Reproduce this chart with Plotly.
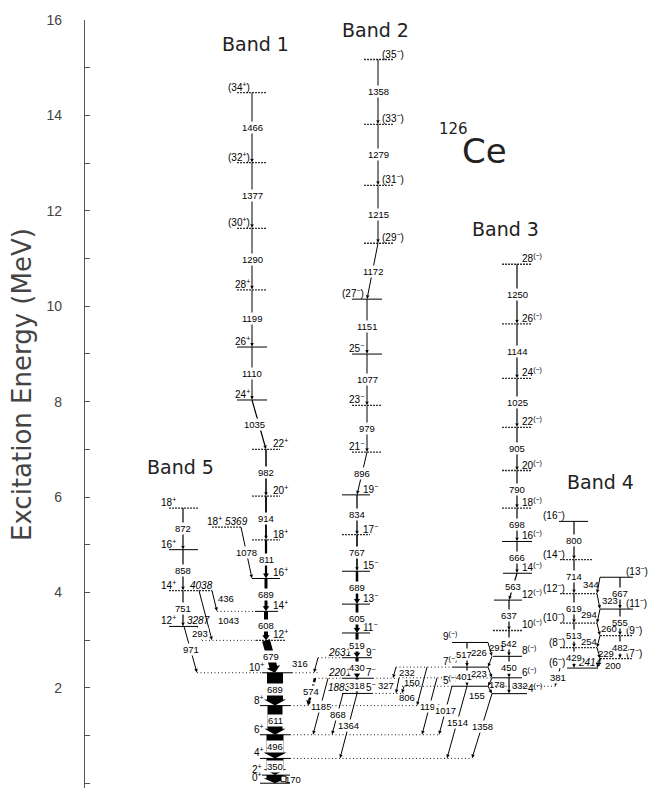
import math
import plotly.graph_objects as go

# ======================= DATA (level energies and gamma energies, keV) =======================
B1_SPIN = ["0+", "2+", "4+", "6+", "8+", "10+", "12+", "14+", "16+", "18+", "20+", "22+",
           "24+", "26+", "28+", "(30+)", "(32+)", "(34+)"]
B1_E = [0, 170, 520, 1016, 1627, 2316, 2995, 3603, 4292, 5103, 6017, 6999,
        8034, 9144, 10343, 11633, 13010, 14476]
B1_GAM = ["170", "350", "496", "611", "689", "679", "608", "689", "811", "914", "982",
          "1035", "1110", "1199", "1290", "1377", "1466"]

B2_SPIN = ["5-", "7-", "9-", "11-", "13-", "15-", "17-", "19-", "21-", "23-", "25-",
           "(27-)", "(29-)", "(31-)", "(33-)", "(35-)"]
B2_E = [1883, 2201, 2631, 3150, 3755, 4444, 5211, 6045, 6941, 7920, 8997,
        10148, 11320, 12535, 13814, 15172]
B2_GAM = ["318", "430", "519", "605", "689", "767", "834", "896", "979", "1077",
          "1151", "1172", "1215", "1279", "1358"]
B2_ELAB = ["1883", "2201", "2631"]

B3E_SPIN = ["4(-)", "6(-)", "8(-)", "10(-)", "12(-)", "14(-)", "16(-)", "18(-)", "20(-)",
            "22(-)", "24(-)", "26(-)", "28(-)"]
B3E_E = [1878, 2210, 2660, 3202, 3839, 4402, 5068, 5766, 6556, 7461, 8486, 9630, 10880]
B3E_GAM = ["332", "450", "542", "637", "563", "666", "698", "790", "905", "1025", "1144", "1250"]
B3O_SPIN = ["5(-)", "7(-)", "9(-)"]
B3O_E = [2033, 2434, 2951]
B3O_GAM = ["401", "517"]
B3X_FROM = [2951, 2660, 2434, 2210, 2033]
B3X_TO = [2660, 2434, 2210, 2033, 1878]
B3X_GAM = ["291", "226", "223", "178", "155"]

B4E_SPIN = ["(6-)", "(8-)", "(10-)", "(12-)", "(14-)", "(16-)"]
B4E_E = [2414, 2843, 3356, 3975, 4689, 5489]
B4E_GAM = ["429", "513", "619", "714", "800"]
B4O_SPIN = ["(7-)", "(9-)", "(11-)", "(13-)"]
B4O_E = [2614, 3096, 3651, 4318]
B4O_GAM = ["482", "555", "667"]
B4X_FROM = [4318, 3975, 3651, 3356, 3096, 2843, 2614]
B4X_TO = [3975, 3651, 3356, 3096, 2843, 2614, 2414]
B4X_GAM = ["344", "323", "294", "260", "254", "229", "200"]
B4_ELAB = "2414"

B5_SPIN = ["12+", "14+", "16+", "18+"]
B5_E = [3287, 4038, 4896, 5768]
B5_GAM = ["751", "858", "872"]
B5_ELAB = ["3287", "4038"]
ISO_SPIN = "18+"
ISO_E = 5369

LINK_FROM = [5369, 4038, 4038, 3287, 3287, 2631, 2201, 2201, 1883, 1883,
             2434, 2210, 2033, 2434, 2210, 2033, 2033, 1878, 2414]
LINK_TO = [4292, 3603, 2995, 2995, 2316, 2316, 1627, 1016, 1016, 520,
           2201, 1883, 1883, 1627, 1016, 1016, 520, 520, 2033]
LINK_GAM = ["1078", "436", "1043", "293", "971", "316", "574", "1185", "868", "1364",
            "232", "327", "150", "806", "1194", "1017", "1514", "1358", "381"]

Y_TICKS = [0, 2, 4, 6, 8, 10, 12, 14, 16]
Y_TICK_TEXT = ["0", "2", "4", "6", "8", "10", "12", "14", "16"]
Y_TITLE = "Excitation Energy (MeV)"
BAND_TITLES = ["Band 1", "Band 2", "Band 3", "Band 4", "Band 5"]
NUCLEUS_A, NUCLEUS_SYM = "126", "Ce"

# ======================= LAYOUT (positions / styles) =======================
W, H = 655, 789
M_L, M_R, M_T, M_B = 85, 0, 20, 1
Y_MIN, Y_MAX = -0.1, 16.0
S = (H - M_T - M_B) / (Y_MAX - Y_MIN)      # px per MeV
FONT = "Liberation Sans"
TFONT = "DejaVu Sans"
FS_G = 9.5    # gamma label size
FS_S = 10     # spin label size

B1_XC = [275] * 6 + [266] * 6 + [252] * 6
B1_X0 = [260, 262, 260, 260, 260, 262, 256, 255, 252, 252, 252, 252, 237, 237, 237, 237, 237, 237]
B1_X1 = [290, 290, 290, 290, 290, 292, 285, 278, 280, 280, 280, 280, 267, 267, 267, 267, 267, 267]
B1_SIDE = ["L"] * 6 + ["R"] * 6 + ["L"] * 6
B1_LX = [263, 263, 265, 265, 265, 265] + [272] * 6 + [251] * 6
B1_STY = ["s", "s", "s", "s", "s", "s", "g", "s", "s", "g", "g", "g", "s", "s", "g", "g", "g", "g"]
B1_W = [17, 17, 17, 15, 16, 8, 4, 3, 2.2, 1.8, 1.5, 1.2, 1, 1, 1, 1, 1]
B1_GDX = [18, 0, 0, 0, 0, 0, 0, 0, 0, 0, 0, -5, 0, 0, 0, 0, 0]

B2_XC = [357] * 8 + [367] * 4 + [378] * 4
B2_X0 = [342] * 8 + [352] * 4 + [364] * 4
B2_X1 = [372, 373, 372, 370, 370, 370, 370, 370] + [382] * 4 + [393] * 4
B2_SIDE = ["R"] * 8 + ["L"] * 4 + ["R"] * 4
B2_LX = [365, 365, 365] + [362] * 5 + [365] * 4 + [381] * 4
B2_STY = ["s", "s", "s", "s", "s", "s", "g", "s", "g", "g", "s", "s", "g", "g", "g", "g"]
B2_W = [3, 3.2, 3, 2.8, 2.5, 1.6, 1.3, 1, 1, 1, 1, 1, 1, 1, 1]
B2_ELX = 352

B3E_XC = [509] * 5 + [517] * 8
B3E_X0 = [492, 492, 493, 493, 494, 503] + [502] * 7
B3E_X1 = [527, 522, 522, 522, 522] + [532] * 8
B3E_LX = [527] + [521] * 12
B3E_STY = ["s", "s", "s", "g", "s", "s", "s", "g", "g", "g", "g", "g", "g"]
B3E_GDX = [11] + [0] * 11
B3O_XC, B3O_X0, B3O_X1, B3O_LX = 467, 452, 488, 458
B3O_STY = ["s", "s", "s"]
B3X_X1 = [488, 492, 488, 492, 488]
B3X_X2 = [492, 488, 492, 488, 492]
B3X_LD = [(7, -2), (-11, -9), (-11, 1), (7, 2), (-13, 6)]

B4E_XC = 574
B4E_X0 = [567, 560, 560, 560, 560, 559]
B4E_X1 = [598, 597, 597, 597, 592, 588]
B4E_LX = 566
B4E_STY = ["s", "g", "g", "g", "g", "s"]
B4O_XC, B4O_X0, B4O_X1, B4O_LX = 620, 600, 633, 625
B4O_STY = ["g", "g", "s", "s"]
B4X_X1 = [600, 597, 600, 597, 600, 597, 600]
B4X_X2 = [597, 600, 597, 600, 597, 600, 597]
B4X_LD = [(-8, -1), (11, -1), (-10, -2), (10, -1), (-10, 0), (7, 0), (14, 2)]

B5_XC = 183
B5_X0 = [169, 169, 169, 169]
B5_X1 = [198, 212, 198, 198]
B5_LX = 177
B5_STY = ["s", "g", "s", "g"]
B5_ELX = [186, 189]
ISO_X0, ISO_X1, ISO_LX = 212, 242, 206

LINK_X1 = [241, 212, 199, 197, 184, 318, 315, 328, 343, 357, 396, 399, 404, 427, 437, 452, 467, 492, 560]
LINK_X2 = [252, 217, 212, 202, 197, 314, 308, 313, 332, 340, 393, 396, 402, 417, 422, 439, 447, 472, 555]
LINK_W = [1] * 6 + [2.5] + [1] * 12
LINK_DASH = [False] * 6 + [True] + [False] * 12
# label offsets (dx, dy in screen px, bg)
LINK_LD = [(0, 0, True), (11, -2, False), (23, 5, False), (0, 0, True), (0, 0, True),
           (-16, -2, False), (-1, 0, True), (0, 0, True), (0, 0, True), (0, 0, True),
           (12, 0, False), (-12, 0, False), (9, -7, False), (-15, 11, False),
           (0, 0, True), (0, 0, True), (0, 0, True), (0, 0, True), (0, 0, True)]

# dotted extensions of levels (keV, x0, x1)
EXT = [(2316, 197, 262), (2316, 292, 318), (2995, 202, 256), (3603, 217, 255),
       (1627, 290, 417), (1016, 290, 440), (520, 290, 472), (2631, 318, 342),
       (2201, 315, 342), (2201, 373, 396), (1883, 372, 404), (2434, 396, 452),
       (2210, 399, 492), (2033, 402, 452), (2033, 488, 556)]

TITLE_POS = [(255, 44), (375, 30), (505, 229), (600, 482), (180, 467)]
YTITLE_POS = (22, 385)

shapes = []
annots = []


def ymev(kev):
    return kev / 1000.0


def scr_y(py):
    return Y_MAX - (py - M_T) / S


def spin_html(s):
    s = s.replace("(-)", "<sup>(\u2212)</sup>")
    s = s.replace("+", "<sup>+</sup>")
    s = s.replace("-", "<sup>\u2212</sup>")
    return s


def level(x0, x1, kev, sty):
    if sty == "s":
        ln = dict(color="black", width=1)
    elif sty == "g":
        ln = dict(color="#333", width=1.3, dash="2px,1px")
    else:
        ln = dict(color="#222", width=1, dash="1px,2.5px")
    shapes.append(dict(type="line", xref="x", yref="y", x0=x0, x1=x1,
                       y0=ymev(kev), y1=ymev(kev), line=ln, layer="above"))


def add_poly(pts):
    d = "M " + " L ".join(f"{x:.2f},{y / S:.5f}" for x, y in pts) + " Z"
    shapes.append(dict(type="path", xref="x", yref="y", path=d, fillcolor="black",
                       line=dict(width=0), layer="above"))


def arrow(x1, e1, x2, e2, w, dashed=False):
    y1, y2 = e1 / 1000 * S, e2 / 1000 * S
    dx, dy = x2 - x1, y2 - y1
    L = math.hypot(dx, dy)
    ux, uy = dx / L, dy / L
    nx, ny = -uy, ux
    if w >= 6:
        hl, hw = 6, w / 2 + 3
    elif w >= 2:
        hl, hw = 5, w / 2 + 1.8
    else:
        hl, hw = 4, 1.7
    hl = min(hl, L * 0.6)
    bx, by = x2 - ux * hl, y2 - uy * hl
    h = w / 2
    if w <= 1.3:
        shapes.append(dict(type="line", xref="x", yref="y", x0=x1, y0=y1 / S, x1=bx, y1=by / S,
                           line=dict(color="black", width=w), layer="above"))
        add_poly([(bx + nx * hw, by + ny * hw), (x2, y2), (bx - nx * hw, by - ny * hw)])
    elif not dashed:
        add_poly([(x1 + nx * h, y1 + ny * h), (bx + nx * h, by + ny * h), (bx + nx * hw, by + ny * hw),
                  (x2, y2), (bx - nx * hw, by - ny * hw), (bx - nx * h, by - ny * h),
                  (x1 - nx * h, y1 - ny * h)])
    else:
        seg, gap = 4.0, 2.5
        t, body = 0.0, L - hl
        while t < body:
            t2 = min(t + seg, body)
            ax, ay = x1 + ux * t, y1 + uy * t
            cx, cy = x1 + ux * t2, y1 + uy * t2
            add_poly([(ax + nx * h, ay + ny * h), (cx + nx * h, cy + ny * h),
                      (cx - nx * h, cy - ny * h), (ax - nx * h, ay - ny * h)])
            t = t2 + gap
        add_poly([(bx + nx * hw, by + ny * hw), (x2, y2), (bx - nx * hw, by - ny * hw)])


def text(x, y, s, size=FS_G, xanchor="center", yanchor="middle", bg=False, yshift=0, italic=False,
         family=FONT, color="black"):
    if italic:
        s = f"<i>{s}</i>"
    annots.append(dict(x=x, y=y, xref="x", yref="y", text=s, showarrow=False,
                       xanchor=xanchor, yanchor=yanchor, yshift=yshift,
                       font=dict(family=family, size=size, color=color),
                       bgcolor="white" if bg else None, borderpad=0))


def spin_label(x, kev, s, side):
    text(x, ymev(kev), spin_html(s), size=FS_S,
         xanchor="right" if side == "L" else "left", yanchor="bottom", yshift=-1)


def gamma(x1, e1, x2, e2, lab, dx=0, dy=0, bg=True):
    text((x1 + x2) / 2 + dx, ymev((e1 + e2) / 2), lab, bg=bg, yshift=-dy)


# ---------- dotted extensions ----------
for e, a, b in EXT:
    level(a, b, e, "d")

# ---------- Band 1 ----------
for i, e in enumerate(B1_E):
    level(B1_X0[i], B1_X1[i], e, B1_STY[i])
    spin_label(B1_LX[i], e, B1_SPIN[i], B1_SIDE[i])
for i, g in enumerate(B1_GAM):
    arrow(B1_XC[i + 1], B1_E[i + 1], B1_XC[i], B1_E[i], B1_W[i])
    if i == 0:
        gamma(B1_XC[1], B1_E[1], B1_XC[0], B1_E[0], g, dx=B1_GDX[i], bg=False)
    else:
        gamma(B1_XC[i + 1], B1_E[i + 1], B1_XC[i], B1_E[i], g, dx=B1_GDX[i])
# conversion marker on 170 keV transition
shapes.append(dict(type="rect", xref="x", yref="y", x0=281, x1=286,
                   y0=ymev(B1_E[0]) + 1.5 / S, y1=ymev(B1_E[1]) - 1 / S,
                   line=dict(color="black", width=1), fillcolor="white", layer="above"))

# ---------- Band 2 ----------
for i, e in enumerate(B2_E):
    level(B2_X0[i], B2_X1[i], e, B2_STY[i])
    spin_label(B2_LX[i], e, B2_SPIN[i], B2_SIDE[i])
for i, lab in enumerate(B2_ELAB):
    text(B2_ELX, ymev(B2_E[i]), lab, size=FS_S, xanchor="right", yanchor="bottom", yshift=-1, italic=True)
for i, g in enumerate(B2_GAM):
    arrow(B2_XC[i + 1], B2_E[i + 1], B2_XC[i], B2_E[i], B2_W[i])
    gamma(B2_XC[i + 1], B2_E[i + 1], B2_XC[i], B2_E[i], g)

# ---------- Band 3 ----------
for i, e in enumerate(B3E_E):
    level(B3E_X0[i], B3E_X1[i], e, B3E_STY[i])
    spin_label(B3E_LX[i], e, B3E_SPIN[i], "R")
for i, g in enumerate(B3E_GAM):
    arrow(B3E_XC[i + 1], B3E_E[i + 1], B3E_XC[i], B3E_E[i], 1.2)
    gamma(B3E_XC[i + 1], B3E_E[i + 1], B3E_XC[i], B3E_E[i], g, dx=B3E_GDX[i], bg=(B3E_GDX[i] == 0))
for i, e in enumerate(B3O_E):
    level(B3O_X0, B3O_X1, e, B3O_STY[i])
    spin_label(B3O_LX, e, B3O_SPIN[i], "L")
for i, g in enumerate(B3O_GAM):
    arrow(B3O_XC, B3O_E[i + 1], B3O_XC, B3O_E[i], 1.2)
    gamma(B3O_XC, B3O_E[i + 1], B3O_XC, B3O_E[i], g, dx=-3)
for i, g in enumerate(B3X_GAM):
    arrow(B3X_X1[i], B3X_FROM[i], B3X_X2[i], B3X_TO[i], 1)
    gamma(B3X_X1[i], B3X_FROM[i], B3X_X2[i], B3X_TO[i], g, dx=B3X_LD[i][0], dy=B3X_LD[i][1], bg=False)

# ---------- Band 4 ----------
for i, e in enumerate(B4E_E):
    level(B4E_X0[i], B4E_X1[i], e, B4E_STY[i])
    spin_label(B4E_LX, e, B4E_SPIN[i], "L")
text(577, ymev(B4E_E[0]), B4_ELAB, size=FS_S, xanchor="left", yanchor="bottom", yshift=-1, italic=True)
for i, g in enumerate(B4E_GAM):
    arrow(B4E_XC, B4E_E[i + 1], B4E_XC, B4E_E[i], 1.2)
    gamma(B4E_XC, B4E_E[i + 1], B4E_XC, B4E_E[i], g)
for i, e in enumerate(B4O_E):
    level(B4O_X0, B4O_X1, e, B4O_STY[i])
    spin_label(B4O_LX, e, B4O_SPIN[i], "R")
for i, g in enumerate(B4O_GAM):
    arrow(B4O_XC, B4O_E[i + 1], B4O_XC, B4O_E[i], 1.2)
    gamma(B4O_XC, B4O_E[i + 1], B4O_XC, B4O_E[i], g)
for i, g in enumerate(B4X_GAM):
    arrow(B4X_X1[i], B4X_FROM[i], B4X_X2[i], B4X_TO[i], 1)
    gamma(B4X_X1[i], B4X_FROM[i], B4X_X2[i], B4X_TO[i], g, dx=B4X_LD[i][0], dy=B4X_LD[i][1], bg=False)

# ---------- Band 5 ----------
for i, e in enumerate(B5_E):
    level(B5_X0[i], B5_X1[i], e, B5_STY[i])
    spin_label(B5_LX, e, B5_SPIN[i], "L")
for i, lab in enumerate(B5_ELAB):
    text(B5_ELX[i], ymev(B5_E[i]), lab, size=FS_S, xanchor="left", yanchor="bottom", yshift=-1, italic=True)
for i, g in enumerate(B5_GAM):
    arrow(B5_XC, B5_E[i + 1], B5_XC, B5_E[i], 1.2)
    gamma(B5_XC, B5_E[i + 1], B5_XC, B5_E[i], g)
level(ISO_X0, ISO_X1, ISO_E, "g")
text(ISO_LX, ymev(ISO_E), spin_html(ISO_SPIN) + " <i>" + str(ISO_E) + "</i>", size=FS_S,
     xanchor="left", yanchor="bottom", yshift=-1)

# ---------- linking transitions ----------
for i, g in enumerate(LINK_GAM):
    arrow(LINK_X1[i], LINK_FROM[i], LINK_X2[i], LINK_TO[i], LINK_W[i], LINK_DASH[i])
    dx, dy, bg = LINK_LD[i]
    gamma(LINK_X1[i], LINK_FROM[i], LINK_X2[i], LINK_TO[i], g, dx=dx, dy=dy, bg=bg)

# ---------- titles ----------
for t, (px, py) in zip(BAND_TITLES, TITLE_POS):
    text(px, scr_y(py), t, size=19, color="#222", family=TFONT)
text(453, scr_y(129), NUCLEUS_A, size=15, color="#222", family=TFONT)
text(484, scr_y(151), NUCLEUS_SYM, size=34, color="#222", family=TFONT)

# y-axis title as rotated annotation (paper coords)
PLOT_W = W - M_L - M_R
PLOT_H = H - M_T - M_B
annots.append(dict(x=(YTITLE_POS[0] - M_L) / PLOT_W, y=(H - M_B - YTITLE_POS[1]) / PLOT_H,
                   xref="paper", yref="paper", text=Y_TITLE, textangle=-90, showarrow=False,
                   xanchor="center", yanchor="middle",
                   font=dict(family=TFONT, size=26, color="#444")))

fig = go.Figure()
fig.add_trace(go.Scatter(x=[None], y=[None], showlegend=False))
fig.update_layout(
    width=W, height=H, margin=dict(l=M_L, r=M_R, t=M_T, b=M_B),
    paper_bgcolor="white", plot_bgcolor="white", showlegend=False,
    shapes=shapes, annotations=annots,
    xaxis=dict(range=[M_L, W], visible=False, fixedrange=True),
    yaxis=dict(range=[Y_MIN, Y_MAX], tickvals=Y_TICKS, ticktext=Y_TICK_TEXT,
               ticks="inside", ticklen=5, tickwidth=1, tickcolor="#555",
               showline=True, linecolor="#555", linewidth=1.2, showgrid=False, zeroline=False,
               minor=dict(ticks="inside", dtick=1, ticklen=5, tickcolor="#555", tickwidth=1),
               tickfont=dict(family=FONT, size=14, color="#444"), ticklabelstandoff=19,
               automargin=False, fixedrange=True),
)
fig.write_html("out.html", config={"displayModeBar": False},
               post_script="document.body.style.margin='0';document.body.style.overflow='hidden';")
